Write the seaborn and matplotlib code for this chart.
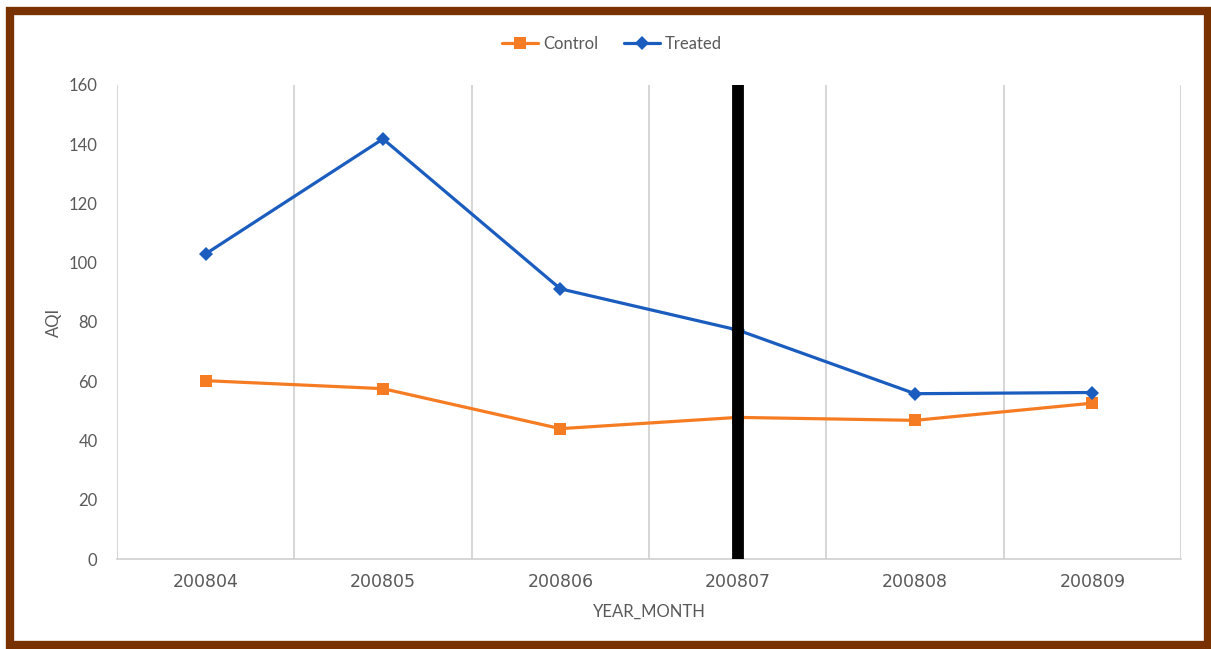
import numpy as np
import pandas as pd
import matplotlib
matplotlib.use("Agg")
import matplotlib.pyplot as plt
from matplotlib.patches import Rectangle
import seaborn as sns

months = ['200804', '200805', '200806', '200807', '200808', '200809']
control = [60.2, 57.5, 44.0, 47.8, 46.8, 52.6]
treated = [103.0, 141.8, 91.2, 77.3, 55.8, 56.2]
event_month = '200807'

orange = '#F57C22'
blue = '#1A5DBE'
grey_txt = '#595959'

sns.set_style("white")
plt.rcParams['font.family'] = ['Lato', 'DejaVu Sans']

df = pd.DataFrame({'YEAR_MONTH': months, 'Control': control, 'Treated': treated})

fig = plt.figure(figsize=(12.11, 6.49), dpi=100)
ax = fig.add_axes([117 / 1211, 1 - 559 / 649, (1181 - 117) / 1211, (559 - 85) / 649])

sns.lineplot(data=df, x='YEAR_MONTH', y='Control', ax=ax, color=orange,
             marker='s', markersize=9, markeredgewidth=0, linewidth=2.3,
             label='Control', sort=False)
sns.lineplot(data=df, x='YEAR_MONTH', y='Treated', ax=ax, color=blue,
             marker='D', markersize=7, markeredgewidth=0, linewidth=2.3,
             label='Treated', sort=False)

# treatment marker
ax.axvline(months.index(event_month), color='black', linewidth=8.5, zorder=5)

ax.set_xlim(-0.5, len(months) - 0.5)
ax.set_ylim(0, 160)
ax.set_yticks(np.arange(0, 161, 20))
ax.set_xticks(range(len(months)))
ax.set_xticklabels(months, fontfamily='DejaVu Sans', fontsize=12.5, color=grey_txt)
ax.tick_params(axis='y', labelsize=12, labelcolor=grey_txt, length=0, pad=14)
ax.tick_params(axis='x', length=0, pad=10)

# vertical grid at category boundaries
ax.set_xticks(np.arange(-0.5, len(months), 1), minor=True)
ax.tick_params(axis='x', which='minor', length=0)
ax.grid(which='minor', axis='x', color='#D0D0D0', linewidth=1.2)
ax.grid(which='major', axis='both', visible=False)

for side in ['top', 'right', 'left']:
    ax.spines[side].set_visible(False)
ax.spines['bottom'].set_color('#D0D0D0')
ax.spines['bottom'].set_linewidth(1.2)

ax.set_xlabel('YEAR_MONTH', fontsize=12, color=grey_txt, labelpad=9)
ax.set_ylabel('AQI', fontsize=12, color=grey_txt, labelpad=5)

handles, labels = ax.get_legend_handles_labels()
ax.get_legend().remove()
fig.legend(handles, labels, loc='center', bbox_to_anchor=(612 / 1211, 1 - 44 / 649),
           ncol=2, frameon=False, fontsize=12, handlelength=2.2,
           columnspacing=1.5, handletextpad=0.3, labelcolor=grey_txt)

# brown frame around the picture
fig.patches.append(Rectangle((10.5 / 1211, 4 / 649), 1197 / 1211, 634 / 649,
                             transform=fig.transFigure, fill=False,
                             edgecolor='#7A3100', linewidth=6, zorder=10))

fig.savefig('out.png', dpi=100)
